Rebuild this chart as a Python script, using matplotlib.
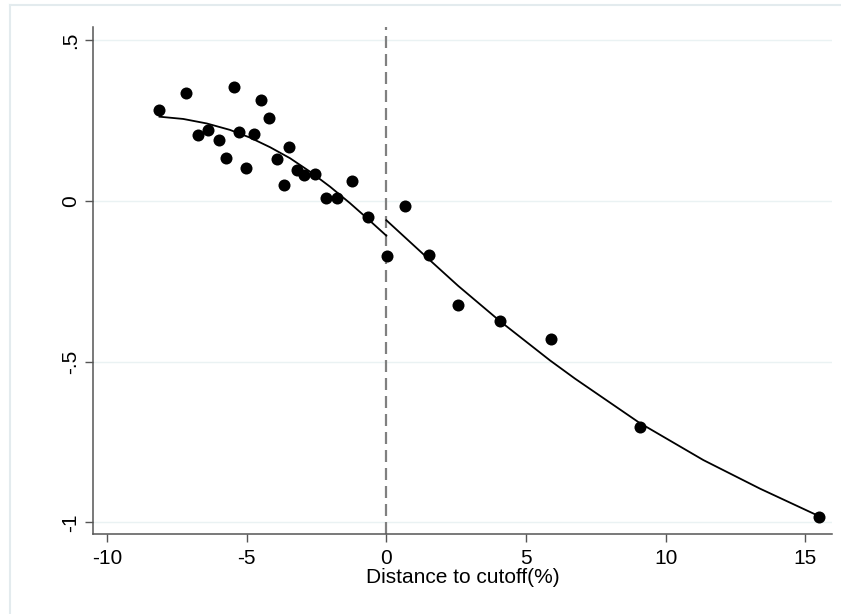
import matplotlib
matplotlib.use("Agg")
import matplotlib.pyplot as plt
from matplotlib.lines import Line2D

plt.rcParams["font.family"] = ["Liberation Sans", "DejaVu Sans"]

# binned means: distance to cutoff (%) and outcome
dist = [-8.15, -7.17, -6.76, -6.37, -6.00, -5.73, -5.47, -5.27, -5.01, -4.72,
        -4.48, -4.21, -3.90, -3.68, -3.48, -3.20, -2.93, -2.55, -2.17, -1.78,
        -1.22, -0.66, 0.01, 0.67, 1.54, 2.58, 4.08, 5.91, 9.07, 15.48]
outcome = [0.283, 0.336, 0.204, 0.220, 0.189, 0.132, 0.353, 0.214, 0.104, 0.209,
           0.314, 0.257, 0.129, 0.051, 0.168, 0.097, 0.081, 0.084, 0.009, 0.009,
           0.062, -0.050, -0.170, -0.016, -0.167, -0.323, -0.375, -0.428, -0.703, -0.982]

# fitted lines on each side of the cutoff
fit_left_x = [-8.12, -7.27, -6.43, -5.60, -4.88, -4.16, -3.45, -2.73, -2.01, -1.30, -0.70, 0.00]
fit_left_y = [0.262, 0.255, 0.241, 0.221, 0.197, 0.167, 0.133, 0.091, 0.044, -0.007, -0.053, -0.108]
fit_right_x = [0.00, 1.53, 2.57, 4.07, 5.86, 6.76, 9.06, 11.35, 13.38, 15.48]
fit_right_y = [-0.060, -0.182, -0.264, -0.374, -0.496, -0.553, -0.690, -0.806, -0.895, -0.980]

xticks = [-10, -5, 0, 5, 10, 15]
yticks = [-1, -0.5, 0, 0.5]
ytick_labels = ["-1", "-.5", "0", ".5"]
cutoff = 0

fig = plt.figure(figsize=(8.41, 6.14), dpi=100)
ax = fig.add_axes([0.110, 0.1298, 0.8797, 0.8262])

# light outer frame of the graph region
frame_col = "#E3EBEE"
fig.add_artist(Line2D([9.5 / 841, 9.5 / 841], [0, 1 - 5 / 614], transform=fig.transFigure,
                      color=frame_col, lw=1.5))
fig.add_artist(Line2D([9.5 / 841, 1], [1 - 5 / 614, 1 - 5 / 614], transform=fig.transFigure,
                      color=frame_col, lw=1.5))

for v in yticks:
    ax.axhline(v, color="#EAF2F3", lw=1.0, zorder=0)

ax.axvline(cutoff, color="#808080", lw=1.6, linestyle=(0, (5.4, 2.7)), zorder=1)

ax.plot(fit_left_x, fit_left_y, color="black", lw=1.3, zorder=2)
ax.plot(fit_right_x, fit_right_y, color="black", lw=1.3, zorder=2)

ax.scatter(dist, outcome, s=75, color="black", zorder=3, linewidths=0)

ax.set_xlim(-10.52, 15.97)
ax.set_ylim(-1.037, 0.541)
ax.set_xticks(xticks)
ax.set_xticklabels([str(t) for t in xticks])
ax.set_yticks(yticks)
ax.set_yticklabels(ytick_labels, rotation=90, va="center")

for s in ["top", "right"]:
    ax.spines[s].set_visible(False)
for s in ["left", "bottom"]:
    ax.spines[s].set_color("#555555")
    ax.spines[s].set_linewidth(1.1)

ax.tick_params(axis="both", direction="out", length=6, width=1.0, color="#555555",
               labelsize=15, labelcolor="black")
ax.tick_params(axis="x", pad=4.5)
ax.tick_params(axis="y", pad=3)
ax.set_xlabel("Distance to cutoff(%)", fontsize=15, labelpad=0)

fig.savefig("out.png", dpi=100)
